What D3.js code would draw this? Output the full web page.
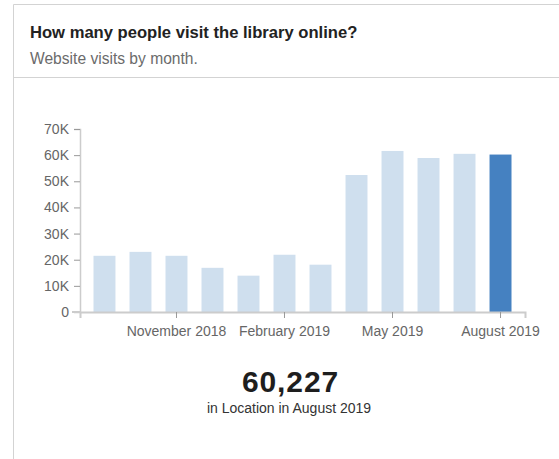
<!DOCTYPE html>
<html>
<head>
<meta charset="utf-8">
<script src="https://cdn.jsdelivr.net/npm/d3@7"></script>
<style>
  html, body { margin: 0; padding: 0; background: #fff; }
  body { width: 559px; height: 459px; overflow: hidden; font-family: "Liberation Sans", Arial, sans-serif; }
  svg text { font-family: "Liberation Sans", Arial, sans-serif; }
</style>
</head>
<body>
<svg id="chart" width="559" height="459"></svg>
<script>
// Monthly website visits, September 2018 – August 2019
const months = [
  "2018-09", "2018-10", "2018-11", "2018-12", "2019-01", "2019-02",
  "2019-03", "2019-04", "2019-05", "2019-06", "2019-07", "2019-08"
];
const visits = [21500, 23000, 21500, 16900, 13900, 21900, 18100, 52400, 61600, 58900, 60500, 60227];
const tickMonths = ["2018-11", "2019-02", "2019-05", "2019-08"];
const yTicks = [0, 10000, 20000, 30000, 40000, 50000, 60000, 70000];

const title = "How many people visit the library online?";
const subtitle = "Website visits by month.";
const highlightMonth = "2019-08";
const locationName = "Location";

const parseMonth = d3.timeParse("%Y-%m");
const fmtMonth = d3.timeFormat("%B %Y");

const svg = d3.select("#chart");

// card frame
svg.append("path")
  .attr("d", "M13.5,459 V4.5 H570")
  .attr("fill", "none")
  .attr("stroke", "#d3d3d3")
  .attr("stroke-width", 1);
svg.append("line")
  .attr("x1", 13).attr("x2", 570)
  .attr("y1", 77.5).attr("y2", 77.5)
  .attr("stroke", "#d3d3d3");

svg.append("text")
  .attr("x", 30).attr("y", 38)
  .attr("font-size", 16.6).attr("font-weight", "bold")
  .attr("fill", "#222")
  .text(title);
svg.append("text")
  .attr("x", 30).attr("y", 63.5)
  .attr("font-size", 15.6)
  .attr("fill", "#6b6b6b")
  .text(subtitle);

// plot scales
const x = d3.scaleBand()
  .domain(months)
  .range([80, 525])
  .paddingInner(0.39)
  .paddingOuter(0.375);

const y = d3.scaleLinear()
  .domain([0, 70000])
  .range([312, 129]);

// bars
svg.append("g")
  .selectAll("rect")
  .data(months.map((m, i) => ({ m, v: visits[i] })))
  .join("rect")
  .attr("x", d => x(d.m))
  .attr("width", x.bandwidth())
  .attr("y", d => y(d.v))
  .attr("height", d => y(0) - y(d.v))
  .attr("fill", d => d.m === highlightMonth ? "#4581c1" : "#cfdfee");

// y axis
const yAxis = svg.append("g")
  .attr("transform", "translate(80,0)")
  .call(d3.axisLeft(y)
    .tickValues(yTicks)
    .tickFormat(d => d === 0 ? "0" : (d / 1000) + "K")
    .tickSizeOuter(0)
    .tickSize(6)
    .tickPadding(5));
yAxis.select(".domain").attr("stroke", "#cccccc").attr("stroke-width", 1.5);
yAxis.selectAll(".tick line").attr("stroke", "#999");
yAxis.selectAll(".tick text").attr("fill", "#666").attr("font-size", 14);

// x axis
const xAxis = svg.append("g")
  .attr("transform", "translate(0,312)")
  .call(d3.axisBottom(x)
    .tickValues(tickMonths)
    .tickFormat(d => fmtMonth(parseMonth(d)))
    .tickSizeOuter(0)
    .tickSize(6)
    .tickPadding(8));
xAxis.select(".domain").attr("stroke", "#cccccc").attr("stroke-width", 2);
xAxis.selectAll(".tick line").attr("stroke", "#999");
xAxis.selectAll(".tick text").attr("fill", "#666").attr("font-size", 14);

// the y axis zero tick extends under the baseline
svg.append("line")
  .attr("x1", 72).attr("x2", 80)
  .attr("y1", y(0)).attr("y2", y(0))
  .attr("stroke", "#cccccc").attr("stroke-width", 2);

// highlighted value summary
const hiIndex = months.indexOf(highlightMonth);
svg.append("text")
  .attr("x", 290.5).attr("y", 392)
  .attr("text-anchor", "middle")
  .attr("font-size", 30).attr("font-weight", "bold")
  .attr("letter-spacing", 0.9)
  .attr("fill", "#1e1e1e")
  .text(d3.format(",")(visits[hiIndex]));
svg.append("text")
  .attr("x", 289).attr("y", 413)
  .attr("text-anchor", "middle")
  .attr("font-size", 14)
  .attr("fill", "#333")
  .text("in " + locationName + " in " + fmtMonth(parseMonth(highlightMonth)));
</script>
</body>
</html>
